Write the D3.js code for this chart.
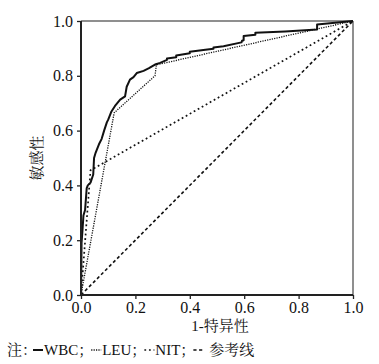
<!DOCTYPE html>
<html><head><meta charset="utf-8">
<script src="https://cdn.jsdelivr.net/npm/d3@7"></script>
<style>body{margin:0;background:#fff}svg{display:block}</style>
</head><body>
<script>
const ticks = [0, 0.2, 0.4, 0.6, 0.8, 1.0];
const xTitle = "1-特异性";
const yTitle = "敏感性";
const wbc = [[0,0],[0.001,0.08],[0.002,0.19],[0.005,0.23],[0.009,0.29],[0.015,0.31],[0.021,0.39],[0.025,0.40],[0.035,0.41],[0.045,0.44],[0.048,0.50],[0.054,0.52],[0.058,0.53],[0.066,0.55],[0.076,0.57],[0.085,0.60],[0.095,0.63],[0.100,0.64],[0.112,0.67],[0.125,0.69],[0.144,0.713],[0.162,0.725],[0.168,0.76],[0.180,0.786],[0.193,0.795],[0.205,0.81],[0.23,0.818],[0.25,0.828],[0.272,0.841],[0.291,0.847],[0.316,0.858],[0.316,0.863],[0.35,0.868],[0.35,0.874],[0.40,0.882],[0.40,0.888],[0.45,0.894],[0.487,0.899],[0.487,0.903],[0.524,0.908],[0.59,0.922],[0.592,0.928],[0.598,0.93],[0.598,0.945],[0.641,0.950],[0.641,0.957],[0.75,0.962],[0.868,0.969],[0.868,0.987],[0.99,0.999],[1,1]];
const leu = [[0,0],[0.122,0.665],[0.272,0.800],[0.277,0.840],[1,1]];
const nit = [[0,0],[0.035,0.455],[1,1]];
const ref = [[0,0],[1,1]];
const legendLabels = ["WBC；", "LEU；", "NIT；", "参考线"];

const W = 379, H = 364;
const svg = d3.select("body").append("svg").attr("width", W).attr("height", H);
const x = d3.scaleLinear().domain([0,1]).range([81,353]);
const y = d3.scaleLinear().domain([0,1]).range([295,21]);
const font = "'Liberation Serif','Noto Serif CJK SC','Noto Sans CJK SC',serif";

const styles = [
  {dash:null, w:2.0},
  {dash:"1.2,1.2", w:1.3},
  {dash:"1.8,2.8", w:1.7},
  {dash:"3.2,2.5", w:1.6}
];

// frame top/right
svg.append("line").attr("x1",x(0)).attr("x2",x(1)).attr("y1",y(1)).attr("y2",y(1)).attr("stroke","#6a6a6a").attr("stroke-width",1.5);
svg.append("line").attr("x1",x(1)).attr("x2",x(1)).attr("y1",y(0)).attr("y2",y(1)).attr("stroke","#6a6a6a").attr("stroke-width",1.5);

const line = d3.line().x(d=>x(d[0])).y(d=>y(d[1]));
[ref, nit, leu, wbc].forEach((data, i) => {
  const s = styles[3 - i];
  svg.append("path").datum(data).attr("d",line).attr("fill","none")
    .attr("stroke","#111").attr("stroke-width",s.w).attr("stroke-dasharray",s.dash)
    .attr("stroke-linejoin","round");
});

const fmt = d3.format(".1f");
const xa = svg.append("g").attr("transform",`translate(0,${y(0)})`).call(d3.axisBottom(x).tickValues(ticks).tickFormat(fmt).tickSize(4).tickPadding(3));
const ya = svg.append("g").attr("transform",`translate(${x(0)},0)`).call(d3.axisLeft(y).tickValues(ticks).tickFormat(fmt).tickSize(4).tickPadding(4));
[xa,ya].forEach(a=>{
  a.select(".domain").attr("stroke","#222").attr("stroke-width",2);
  a.selectAll(".tick line").attr("stroke","#222").attr("stroke-width",1.3);
  a.selectAll(".tick text").attr("font-family",font).attr("font-size",16).attr("fill","#111");
});
ya.select(".domain").attr("d",`M0,${y(0)+1}V${y(1)}`);
xa.select(".domain").attr("d",`M${x(0)-1},0H${x(1)}`);

svg.append("text").attr("x",(x(0)+x(1))/2+3).attr("y",331).attr("text-anchor","middle")
  .attr("font-family",font).attr("font-size",15).attr("fill","#111").text(xTitle);
svg.append("text").attr("transform",`translate(42,${(y(0)+y(1))/2}) rotate(-90)`).attr("text-anchor","middle")
  .attr("font-family",font).attr("font-size",15).attr("fill","#111").text(yTitle);

// legend (flow layout)
const lg = svg.append("g").attr("font-family",font).attr("font-size",15).attr("fill","#111");
const by = 355;
let cx = 7;
const t0 = lg.append("text").attr("x",cx).attr("y",by).text("注：");
cx += t0.node().getComputedTextLength() - 4;
legendLabels.forEach((lab,i)=>{
  const s = styles[i];
  const sw = 10;
  lg.append("line").attr("x1",cx).attr("x2",cx+sw).attr("y1",by-5).attr("y2",by-5)
    .attr("stroke","#111").attr("stroke-width",s.w).attr("stroke-dasharray",s.dash);
  cx += sw + (i === 3 ? 6 : 1);
  const t = lg.append("text").attr("x",cx).attr("y",by).text(lab);
  cx += t.node().getComputedTextLength() - 2;
});
</script>
</body></html>
